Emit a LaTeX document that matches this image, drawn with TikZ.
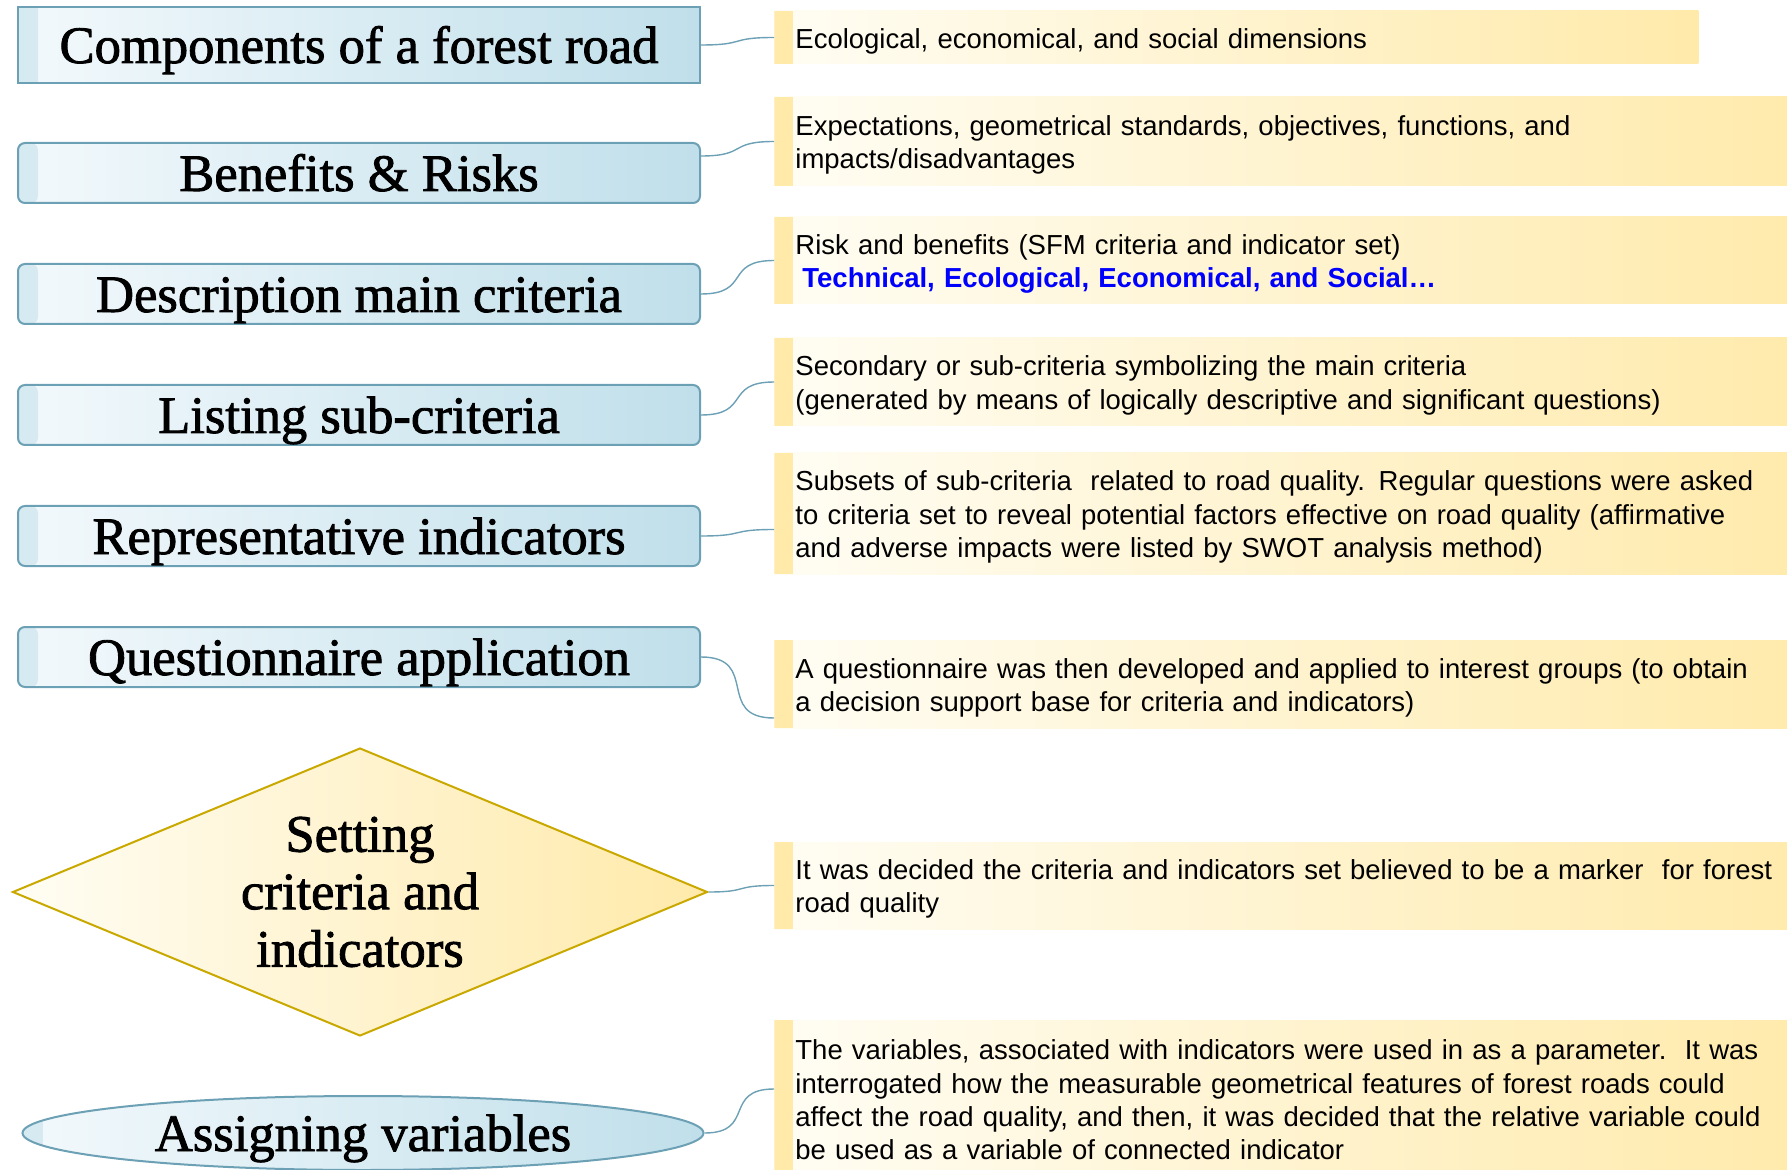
\documentclass[tikz,border=0pt]{standalone}
\usepackage{fontspec}
\setmainfont{Liberation Serif}
\setsansfont{Liberation Sans}
\newfontfamily\lfont{Liberation Serif}[FakeBold=1.6]
\usetikzlibrary{shapes.geometric}
\definecolor{bw}{RGB}{243,249,252}
\definecolor{bb}{RGB}{192,223,234}
\definecolor{bs}{RGB}{214,234,242}
\definecolor{l1}{RGB}{108,160,180}
\definecolor{yw}{RGB}{255,253,244}
\definecolor{yy}{RGB}{255,234,170}
\definecolor{d1}{RGB}{201,168,0}
\definecolor{tb}{RGB}{0,0,255}
\newcommand{\ystrut}{\rule[-3pt]{0pt}{16.6pt}}

\begin{document}
\begin{tikzpicture}[
    x=0.5pt, y=-0.5pt,
    c/.style={
        line width=0.7pt,
        color=l1,
        out=0, in=180, looseness=1.6
    },
    lpic/.style={
        path picture={\shade [left color=bs, right color=bw]
            (path picture bounding box.south west) rectangle
            ([xshift=10pt]path picture bounding box.north west);}
    },
    b/.style={
        rounded corners=3.5pt,
        draw=l1, line width=1pt,
        left color=bw, right color=bb, lpic,
        minimum width=341pt, minimum height=30pt, inner sep=0pt,
        font={\lfont\fontsize{26.3}{30}\selectfont},
        text height=18pt, text depth=0pt
    },
    o/.style={
        ellipse,
        draw=l1, line width=1pt,
        left color=bw, right color=bb, lpic,
        minimum width=340.5pt, minimum height=37pt, inner sep=0pt,
        font={\lfont\fontsize{26.3}{30}\selectfont},
        text height=18pt, text depth=0pt
    },
    d/.style={
        diamond, aspect=2.41,
        draw=d1, line width=1pt,
        left color=yw, right color=yy,
        minimum width=347.5pt, minimum height=144pt, inner sep=0pt,
        align=center,
        font={\lfont\fontsize{26.3}{28.75}\selectfont}
    },
    r/.style={
        anchor=west,
        left color=yw, right color=yy,
        inner xsep=10.5pt, inner ysep=0pt,
        text width=499pt, align=left,
        font={\sffamily\fontsize{13.75}{16.6}\selectfont},
        execute at begin node=\ystrut,
        execute at end node=\ystrut,
        path picture={\fill [yy]
            (path picture bounding box.south west) rectangle
            ([xshift=9.5pt]path picture bounding box.north west);}
    }
]

    \useasboundingbox (0,0) rectangle (1787,1170);
    \clip (0,0) rectangle (1787,1170);

    \node [b, sharp corners, minimum height=38pt] (b1) at (359,  45) {Components of a forest road};
    \node [b] (b2) at (359, 173) {Benefits \& Risks};
    \node [b] (b3) at (359, 294) {Description main criteria};
    \node [b] (b4) at (359, 415) {Listing sub-criteria};
    \node [b] (b5) at (359, 536) {Representative indicators};
    \node [b] (b6) at (359, 657) {Questionnaire application};
    \node [d] (s)  at (360, 892) {Setting\\criteria and\\indicators};
    \node [o] (v)  at (363,1133) {Assigning variables};

    \node [r, text width=441pt, minimum height=26.5pt] (r1) at (774,  37.5)
        {Ecological, economical, and social dimensions};
    \node [r, minimum height=44.5pt] (r2) at (774, 141.5)
        {Expectations, geometrical standards, objectives, functions, and\\
         impacts/disadvantages};
    \node [r, minimum height=43.5pt] (r3) at (774, 260.5)
        {Risk and benefits (SFM criteria and indicator set)\\
         \hspace*{3.5pt}{\bfseries\color{tb}Technical, Ecological, Economical, and Social…}};
    \node [r, minimum height=44pt] (r4) at (774, 382)
        {Secondary or sub-criteria symbolizing the main criteria\\
         (generated by means of logically descriptive and significant questions)};
    \node [r, minimum height=60.5pt] (r5) at (774, 513.5)
        {Subsets of sub-criteria\ \ related to road quality. Regular questions were asked\\
         to criteria set to reveal potential factors effective on road quality (affirmative\\
         and adverse impacts were listed by SWOT analysis method)};
    \node [r, minimum height=44pt] (r6) at (774, 684)
        {A questionnaire was then developed and applied to interest groups (to obtain\\
         a decision support base for criteria and indicators)};
    \node [r, minimum height=43.5pt] (r7) at (774, 885.5)
        {It was decided the criteria and indicators set believed to be a marker\ \ for forest\\
         road quality};
    \node [r, minimum height=79pt] (r8) at (774,1099)
        {The variables, associated with indicators were used in as a parameter.\ \ It was\\
         interrogated how the measurable geometrical features of forest roads could\\
         affect the road quality, and then, it was decided that the relative variable could\\
         be used as a variable of connected indicator};

    \draw (b1.east) edge [c] (r1.west);
    \draw ([yshift=8.5pt]b2.east) edge [c] (r2.west);
    \draw (b3.east) edge [c] (r3.west);
    \draw (b4.east) edge [c] (r4.west);
    \draw (b5.east) edge [c] ([yshift=-8pt]r5.west);
    \draw (b6.east) edge [c] ([yshift=-17pt]r6.west);
    \draw (s.east)  edge [c] (r7.west);
    \draw (v.east)  edge [c] ([yshift=5pt]r8.west);

\end{tikzpicture}
\end{document}
